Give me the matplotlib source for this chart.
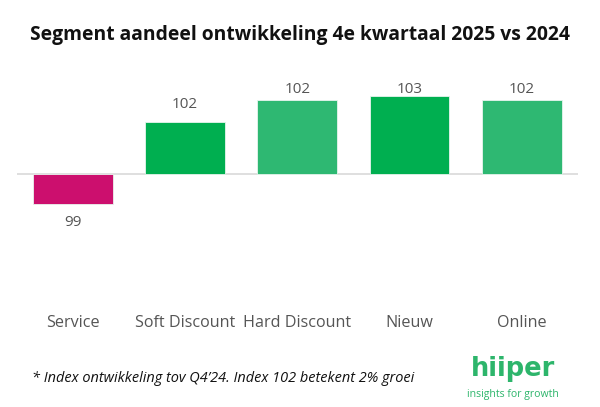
import matplotlib
matplotlib.use("Agg")
import matplotlib.pyplot as plt

plt.rcParams['font.family'] = ['Open Sans', 'DejaVu Sans']

# Data
segments = ['Service', 'Soft Discount', 'Hard Discount', 'Nieuw', 'Online']
index_values = [99.03, 101.72, 102.43, 102.59, 102.43]
bar_colors = ['#CC0F6E', '#00AF50', '#2EB872', '#00AF50', '#2EB872']

W, H = 600, 407
fig = plt.figure(figsize=(W / 100, H / 100), dpi=100)

# axes placed in pixel coordinates
left, right, top, bottom = 16.7, 578, 60, 300
ax = fig.add_axes([left / W, 1 - bottom / H, (right - left) / W, (bottom - top) / H])

x = range(len(segments))
ax.bar(x, [v - 100 for v in index_values], bottom=100, width=0.71,
       color=bar_colors, edgecolor='#e8f5ee', linewidth=0.6, zorder=2)
ax.axhline(100, color='#d9d9d9', linewidth=1.2, zorder=1)

# waarde labels
for i, v in enumerate(index_values):
    if v >= 100:
        ax.text(i, min(v + 0.57, 102.79), f'{v:.0f}', ha='center', va='center',
                fontsize=11, color='#555555', zorder=3)
    else:
        ax.text(i, v - 0.62, f'{v:.0f}', ha='center', va='center',
                fontsize=11, color='#555555', zorder=3)

ax.set_xlim(-0.5, len(segments) - 0.5)
ax.set_ylim(95.885, 103.754)
ax.set_xticks(list(x))
ax.set_xticklabels(segments, fontsize=11.6, color='#555555')
ax.tick_params(axis='x', length=0, pad=11)
ax.set_yticks([])
for s in ax.spines.values():
    s.set_visible(False)

fig.text(0.5, 1 - 35 / H, 'Segment aandeel ontwikkeling 4e kwartaal 2025 vs 2024',
         ha='center', va='center', fontsize=13.9, fontweight='bold', color='#111111')

fig.text(32 / W, 1 - 379 / H, '* Index ontwikkeling tov Q4’24. Index 102 betekent 2% groei',
         ha='left', va='center', fontsize=10.45, style='italic', color='#111111')

# logo
fig.text(513 / W, 1 - 376 / H, 'hiiper', ha='center', va='baseline',
         fontsize=18.5, fontweight='bold', color='#2DB56B', family='DejaVu Sans')
fig.text(513 / W, 1 - 394 / H, 'insights for growth', ha='center', va='center',
         fontsize=7.6, color='#2DB56B')

fig.savefig('out.png', dpi=100)
